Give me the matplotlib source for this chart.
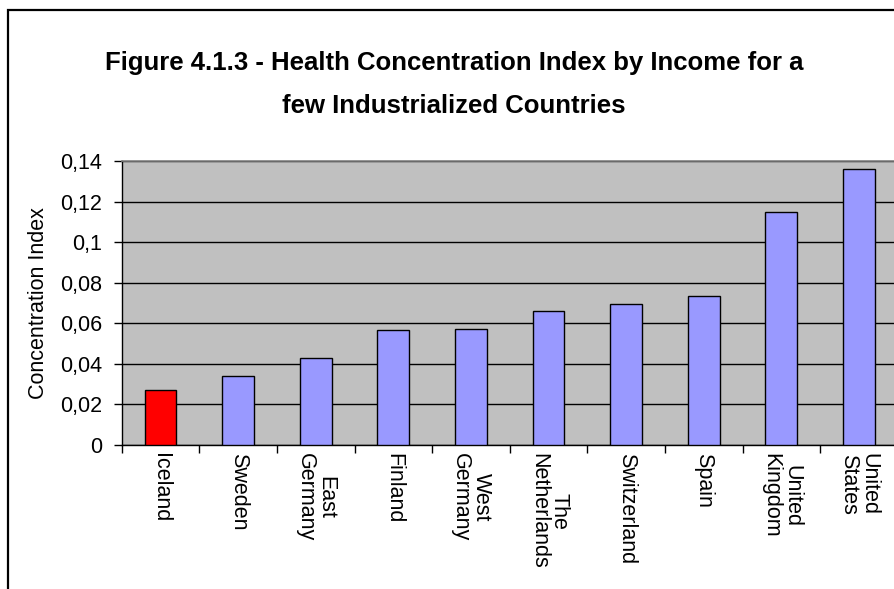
import matplotlib.pyplot as plt
from matplotlib.patches import Rectangle
from matplotlib.ticker import FuncFormatter, FixedLocator
import numpy as np

plt.rcParams['font.family'] = ['Liberation Sans', 'DejaVu Sans']

countries = ["Iceland", "Sweden", "East\nGermany", "Finland", "West\nGermany",
             "The\nNetherlands", "Switzerland", "Spain", "United\nKingdom",
             "United\nStates"]
conc_index = [0.027, 0.034, 0.043, 0.0565, 0.057, 0.066, 0.0695, 0.0733,
              0.115, 0.136]
highlight = "Iceland"
yticks = [0, 0.02, 0.04, 0.06, 0.08, 0.1, 0.12, 0.14]

fig = plt.figure(figsize=(8.94, 5.89), dpi=100)

# outer chart frame (runs off the right and bottom edges)
fig.patches.append(Rectangle((7.5 / 894, -0.05), 1.2, 1.05 - 10 / 589,
                             transform=fig.transFigure, fill=False,
                             edgecolor="black", linewidth=1.6))

ax = fig.add_axes([121.7 / 894, 144 / 589, 776 / 894, 284 / 589])
ax.set_facecolor("#C0C0C0")

x = np.arange(len(countries))
colors = ["#FF0000" if c == highlight else "#9999FF" for c in countries]
ax.bar(x, conc_index, width=0.41, color=colors, edgecolor="black",
       linewidth=1.0, zorder=3)

ax.set_xlim(-0.5, len(countries) - 0.5)
ax.set_ylim(0, 0.14)
ax.set_yticks(yticks)
ax.yaxis.set_major_formatter(FuncFormatter(lambda v, p: f"{v:g}".replace(".", ",")))
ax.yaxis.grid(True, color="black", linewidth=1.0, zorder=1)
ax.set_axisbelow(True)

# tick marks sit between the categories, labels under the bars
ax.xaxis.set_major_locator(FixedLocator(np.arange(-0.5, len(countries), 1.0)))
ax.xaxis.set_major_formatter(FuncFormatter(lambda v, p: ""))
ax.xaxis.set_minor_locator(FixedLocator(x))
ax.set_xticklabels(countries, minor=True, rotation=270, ha="center",
                   va="top", multialignment="center", fontsize=15.5,
                   linespacing=0.95)
ax.tick_params(axis="x", which="minor", length=0, pad=6)
ax.tick_params(axis="x", which="major", length=6, width=1, direction="out")
ax.tick_params(axis="y", length=6, width=1, direction="out", labelsize=15.5,
               pad=8)

for side in ["top", "right"]:
    ax.spines[side].set_color("#808080")
    ax.spines[side].set_linewidth(1.2)
for side in ["left", "bottom"]:
    ax.spines[side].set_color("black")
    ax.spines[side].set_linewidth(1.0)

ax.set_ylabel("Concentration Index", fontsize=15.5, labelpad=8)

fig.text(0.508, 1 - 84.5 / 589,
         "Figure 4.1.3 - Health Concentration Index by Income for a\nfew Industrialized Countries",
         ha="center", va="center", fontsize=18.5, fontweight="bold",
         linespacing=1.95)

fig.savefig("out.png", dpi=100)
